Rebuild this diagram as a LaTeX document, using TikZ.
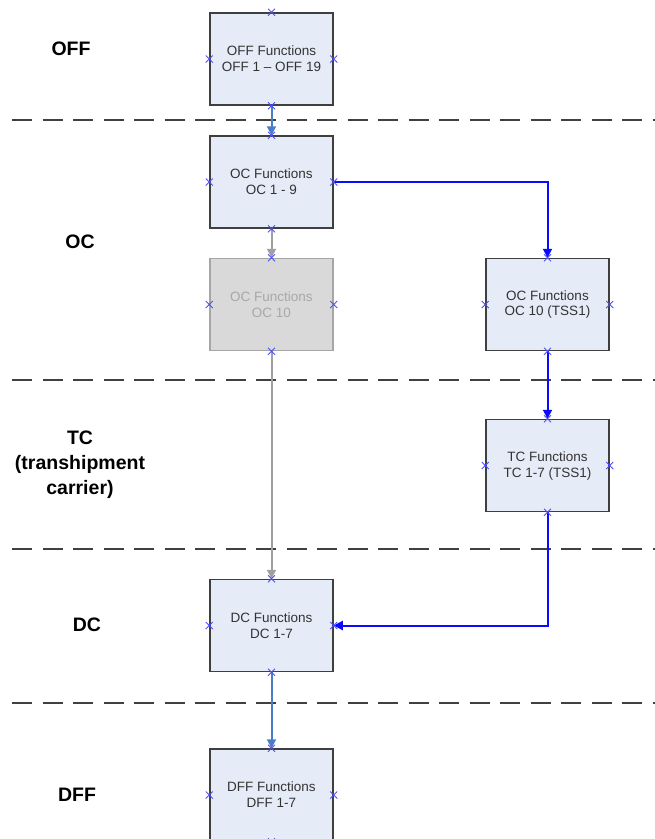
\documentclass[tikz,border=0pt]{standalone}
\usepackage{fontspec}
\setmainfont{Liberation Sans}
\usetikzlibrary{arrows.meta}
\definecolor{boxfill}{HTML}{E6ECF7}
\definecolor{boxline}{HTML}{3F3F3F}
\definecolor{boxtext}{HTML}{333333}
\definecolor{offfill}{HTML}{D9D9D9}
\definecolor{offline}{HTML}{A6A6A6}
\definecolor{offtext}{HTML}{A8A8A8}
\definecolor{crossblue}{HTML}{5050F0}
\definecolor{linkblue}{HTML}{0A0AFF}
\definecolor{steel}{HTML}{4A7EC4}
\definecolor{greylink}{HTML}{A0A0A0}
\definecolor{sepline}{HTML}{404040}
\begin{document}
\begin{tikzpicture}[x=1pt,y=-1pt,
  fbox/.style={draw=boxline, fill=boxfill, line width=1.5pt,
    minimum width=123pt, minimum height=92pt, inner sep=0pt,
    align=center, text=boxtext,
    font=\fontsize{13.5}{16}\selectfont},
  fboxoff/.style={fbox, draw=offline, fill=offfill, text=offtext},
  phase/.style={align=center, font=\fontsize{19.5}{25}\selectfont\bfseries},
  sep/.style={draw=sepline, line width=1.5pt, dash pattern=on 20pt off 10.5pt},
  link/.style={line width=2pt, -{Triangle[length=9pt,width=9pt]}},
  cross/.style={draw=crossblue, line width=1pt}]
\useasboundingbox (0,0) rectangle (655,839);

% phase separators
\foreach \yy in {120,380,549,703}
  \draw[sep] (12,\yy) -- (655,\yy);

% phase labels
\node[phase] (lOFF) at (71,49) {OFF};
\node[phase] (lOC) at (80,242) {OC};
\node[phase] (lTC) at (80,465) {TC\\(transhipment\\carrier)};
\node[phase] (lDC) at (87,625) {DC};
\node[phase] (lDFF) at (77,795) {DFF};

% function boxes
\node[fbox] (off) at (271.5,59) {OFF Functions\\OFF 1 -- OFF 19};
\node[fbox] (oc) at (271.5,182) {OC Functions\\OC 1 - 9};
\node[fboxoff] (oc10) at (271.5,304.5) {OC Functions\\OC 10};
\node[fbox] (tss) at (547.5,304.5) {OC Functions\\OC 10 (TSS1)};
\node[fbox] (tc) at (547.5,465.5) {TC Functions\\TC 1-7 (TSS1)};
\node[fbox] (dc) at (271.5,625.5) {DC Functions\\DC 1-7};
\node[fbox] (dff) at (271.5,795) {DFF Functions\\DFF 1-7};

% connectors
\draw[link, draw=steel] (off.south) -- (oc.north);
\draw[link, draw=greylink] (oc.south) -- (oc10.north);
\draw[link, draw=greylink] (oc10.south) -- (dc.north);
\draw[link, draw=linkblue] (oc.east) -| (tss.north);
\draw[link, draw=linkblue] (tss.south) -- (tc.north);
\draw[link, draw=linkblue] (tc.south) |- (dc.east);
\draw[link, draw=steel] (dc.south) -- (dff.north);

% connection points
\foreach \n in {off,oc,oc10,tss,tc,dc,dff}
  \foreach \a in {north,south,east,west}
    \draw[cross] ([shift={(-3.5,-3.5)}]\n.\a) -- ++(7,7)
                 ([shift={(-3.5,3.5)}]\n.\a) -- ++(7,-7);
\end{tikzpicture}
\end{document}
